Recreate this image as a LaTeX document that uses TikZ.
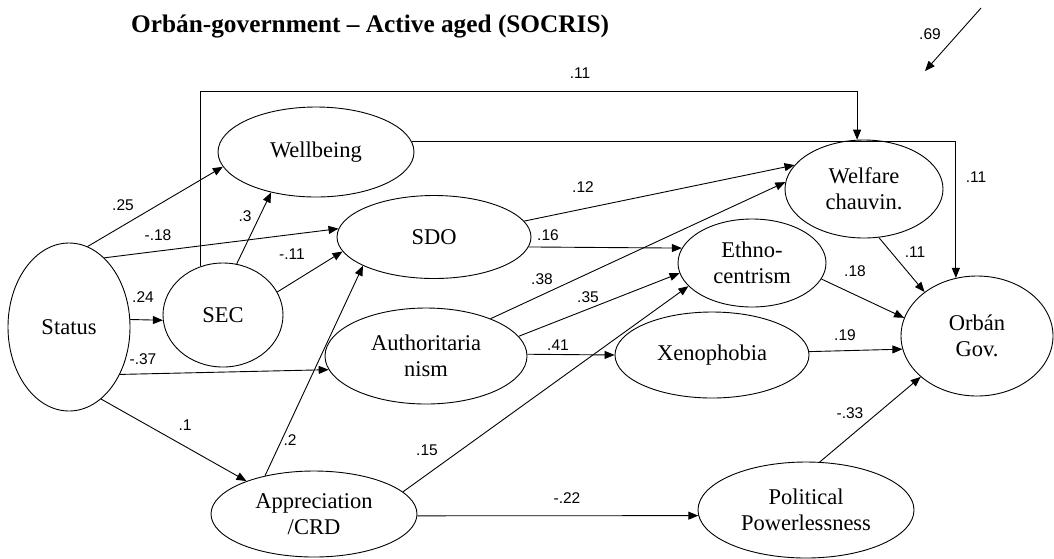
\documentclass[tikz,border=0pt]{standalone}
\usepackage{fontspec}
\setmainfont{Liberation Serif}
\newfontfamily\labfont{Liberation Sans}
\usetikzlibrary{shapes.geometric,arrows.meta}
\tikzset{
  var/.style={draw, ellipse, inner sep=0pt, line width=0.9pt, align=center,
    font=\fontsize{22.5}{26}\selectfont},
  arr/.style={draw, line width=0.9pt, -{Triangle[length=10pt,width=8pt]}},
  lab/.style={font=\labfont\fontsize{15.5}{17}\selectfont, inner sep=0pt},
}
\begin{document}
\begin{tikzpicture}[x=1pt,y=-1pt]
\useasboundingbox (0,0) rectangle (1054,558);
\node[anchor=base west, inner sep=0pt, font=\bfseries\fontsize{25.3}{30}\selectfont] (title) at (131,32) {Orbán-government – Active aged (SOCRIS)};

\node[var, minimum width=122pt, minimum height=168pt] (status) at (69,327) {Status};
\node[var, minimum width=120pt, minimum height=104pt] (sec) at (223,315) {SEC};
\node[var, minimum width=196pt, minimum height=90pt] (well) at (316,152) {Wellbeing};
\node[var, minimum width=194pt, minimum height=83pt] (sdo) at (434,237) {SDO};
\node[var, minimum width=202pt, minimum height=96pt] (auth) at (426,356) {Authoritaria\\nism};
\node[var, minimum width=206pt, minimum height=86pt] (app) at (314,514) {Appreciation\\/CRD};
\node[var, minimum width=158pt, minimum height=98pt] (welf) at (864,189) {Welfare\\chauvin.};
\node[var, minimum width=148pt, minimum height=88pt] (ethno) at (752,263) {Ethno-\\centrism};
\node[var, minimum width=194pt, minimum height=86pt] (xeno) at (712,355) {Xenophobia};
\node[var, minimum width=216pt, minimum height=96pt] (pp) at (806,510) {Political\\Powerlessness};
\node[var, minimum width=152pt, minimum height=120pt] (orban) at (977,336) {Orbán\\Gov.};

\coordinate (e1) at (981,8);
\coordinate (e2) at (925,71);
\draw[arr] (e1) -- (e2);

\draw[arr] (status.77) -- (well.189);
\draw[arr] (status.63) -- (sdo.175);
\draw[arr] (status.7) -- (sec.185);
\draw[arr] (status.-43) -- (auth.188);
\draw[arr] (status.-66) -- (app.154);
\draw[arr] (sec.75) -- (well.222);
\draw[arr] (sec.23) -- (sdo.189);
\draw[arr] (sec.115) |- (welf.98 |- 0,91) -- (welf.98);
\draw[arr] (well.6.5) -| (orban.110);
\draw[arr] (sdo.10) -- (welf.161);
\draw[arr] (sdo.-6) -- (ethno.168);
\draw[arr] (auth.30) -- (welf.175);
\draw[arr] (auth.12) -- (ethno.188);
\draw[arr] (auth.1) -- (xeno.180);
\draw[arr] (app.142) -- (sdo.202);
\draw[arr] (app.14) -- (ethno.200);
\draw[arr] (app.-1.7) -- (pp.183.7);
\draw[arr] (welf.-73) -- (orban.140);
\draw[arr] (ethno.-13.5) -- (orban.166);
\draw[arr] (xeno.2.3) -- (orban.190.8);
\draw[arr] (pp.74) -- (orban.216);

\node[lab] (l69) at (930,34) {.69};
\node[lab] (l1) at (580,73) {.11};
\node[lab] (l2) at (123,205) {.25};
\node[lab] (l3) at (158,235) {-.18};
\node[lab] (l4) at (245,216) {.3};
\node[lab] (l5) at (292,254) {-.11};
\node[lab] (l6) at (143,297) {.24};
\node[lab] (l7) at (143,359) {-.37};
\node[lab] (l8) at (185,425) {.1};
\node[lab] (l9) at (290,440) {.2};
\node[lab] (l10) at (427,450) {.15};
\node[lab] (l11) at (567,498) {-.22};
\node[lab] (l12) at (583,187) {.12};
\node[lab] (l13) at (548,235) {.16};
\node[lab] (l14) at (542,279) {.38};
\node[lab] (l15) at (588,297) {.35};
\node[lab] (l16) at (558,345) {.41};
\node[lab] (l17) at (976,177) {.11};
\node[lab] (l18) at (915,252) {.11};
\node[lab] (l19) at (855,271) {.18};
\node[lab] (l20) at (845,335) {.19};
\node[lab] (l21) at (850,413) {-.33};
\end{tikzpicture}
\end{document}
